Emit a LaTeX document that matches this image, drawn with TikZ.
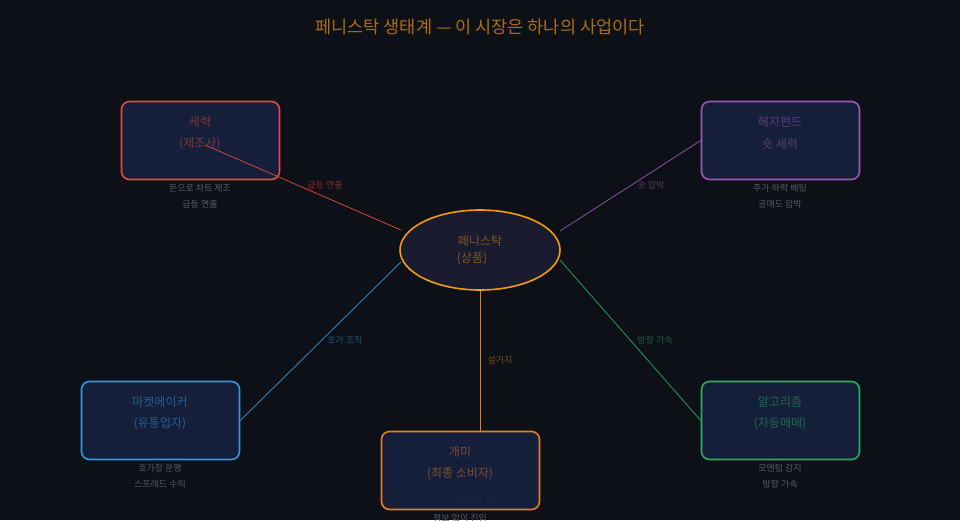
\documentclass[tikz,border=0pt]{standalone}
\usepackage{fontspec}
\setmainfont{Noto Sans CJK KR}
\usetikzlibrary{shapes.geometric}
\definecolor{bg}{HTML}{0D1017}
\definecolor{boxfill}{HTML}{16213E}
\definecolor{ellfill}{HTML}{1B1B2F}
\definecolor{cred}{HTML}{E74C3C}
\definecolor{cpurple}{HTML}{9B59B6}
\definecolor{cblue}{HTML}{3498DB}
\definecolor{cgreen}{HTML}{27AE60}
\definecolor{cant}{HTML}{E67E22}
\definecolor{cgold}{HTML}{F39C12}
\definecolor{subgray}{HTML}{565B66}
\begin{document}
\begin{tikzpicture}[x=1pt, y=-1pt,
	actor/.style={draw=#1, line width=1.6pt, rounded corners=8pt, fill=boxfill,
		fill opacity=0.92, minimum width=158pt, minimum height=78pt, inner sep=0pt},
	actortext/.style={text=#1!50!boxfill, font=\fontsize{12}{14}\selectfont},
	link/.style={draw=#1, line width=0.7pt},
	linklabel/.style={text=#1!50!bg, font=\fontsize{9}{11}\selectfont},
	sub/.style={text=subgray, font=\fontsize{9}{11}\selectfont}]
	% Background
	\fill[bg] (0,0) rectangle (960,520);
	\useasboundingbox (0,0) rectangle (960,520);
	
	% Title
	\node[text=cgold!68!bg, font=\fontsize{17.5}{20}\selectfont] (title) at (480,27)
		{페니스탁 생태계 — 이 시장은 하나의 사업이다};
	
	% Center: the stock
	\node[ellipse, draw=cgold, line width=1.6pt, fill=ellfill,
		minimum width=160pt, minimum height=80pt] (stock) at (480,250) {};
	\node[text=cgold!45!ellfill, font=\fontsize{12}{14}\selectfont] at (480,241) {페니스탁};
	\node[text=cgold!45!ellfill, font=\fontsize{12}{14}\selectfont] at (472,259) {(상품)};
	\coordinate (stockNW) at (401,230);
	\coordinate (stockNE) at (560,231);
	\coordinate (stockSW) at (401,262);
	\coordinate (stockSE) at (560,260);
	
	% Ant sub labels (under the box)
	\node[sub] at (480,501) {단타왕 원두};
	\node[sub] at (460,518) {정보 없이 진입};
	
	% Actors
	\node[actor=cred] (force) at (200.5,140.5) {};
	\node[actor=cpurple] (hedge) at (780.5,140.5) {};
	\node[actor=cblue] (maker) at (160.5,420.5) {};
	\node[actor=cgreen] (algo) at (780.5,420.5) {};
	\node[actor=cant] (ant) at (460.5,470.5) {};
	\coordinate (forceIn) at (205,145);
	
	% Actor texts
	\node[actortext=cred] at (200,122) {세력};
	\node[actortext=cred] at (200,144) {(제조사)};
	\node[actortext=cpurple] at (780,122) {헤지펀드};
	\node[actortext=cpurple] at (780,144) {숏 세력};
	\node[actortext=cblue] at (160,402) {마켓메이커};
	\node[actortext=cblue] at (160,424) {(유통업자)};
	\node[actortext=cgreen] at (780,402) {알고리즘};
	\node[actortext=cgreen] at (780,424) {(자동매매)};
	\node[actortext=cant] at (460,452) {개미};
	\node[actortext=cant] at (460,474) {(최종 소비자)};
	
	% Sub labels
	\node[sub] at (200,188) {돈으로 차트 제조};
	\node[sub] at (200,204) {급등 연출};
	\node[sub] at (780,188) {주가 하락 베팅};
	\node[sub] at (780,204) {공매도 압박};
	\node[sub] at (160,468) {호가창 운영};
	\node[sub] at (160,484) {스프레드 수익};
	\node[sub] at (780,468) {모멘텀 감지};
	\node[sub] at (780,484) {방향 가속};
	
	% Links
	\draw[link=cred] (forceIn) -- (stockNW);
	\draw[link=cpurple] (hedge.west) -- (stockNE);
	\draw[link=cblue] (maker.east) -- (stockSW);
	\draw[link=cgreen] (algo.west) -- (stockSE);
	\draw[link=cant] (stock.south) -- (ant.north -| stock.south);
	
	% Link labels
	\node[linklabel=cred] at (325,185) {급등 연출};
	\node[linklabel=cpurple] at (651,185) {숏 압박};
	\node[linklabel=cblue] at (345,340) {호가 조작};
	\node[linklabel=cgreen] at (655,340) {방향 가속};
	\node[linklabel=cant] at (500,360) {설거지};
\end{tikzpicture}
\end{document}
